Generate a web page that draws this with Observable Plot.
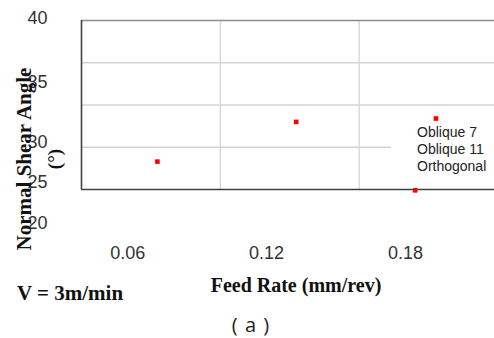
<!DOCTYPE html>
<html>
<head>
<meta charset="utf-8">
<script src="https://cdn.jsdelivr.net/npm/d3@7"></script>
<script src="https://cdn.jsdelivr.net/npm/@observablehq/plot@0.6"></script>
<style>
  html, body { margin: 0; padding: 0; background: #fff; }
  #wrap { position: relative; width: 494px; height: 338px; overflow: hidden; background: #fff; }
  #wrap > svg, #wrap > figure { position: absolute; left: 0; top: 0; margin: 0; }
  .serif { font-family: "Liberation Serif", "Times New Roman", serif; font-weight: bold; color: #111; position: absolute; white-space: nowrap; line-height: 1; }
  #legend { position: absolute; left: 391px; top: 124px; width: 103px; height: 58px; background: #fff;
            font-family: "Liberation Sans", Arial, sans-serif; font-size: 14px; line-height: 17px; color: #222; box-sizing: border-box; padding-left: 26px; }
  #ytitle { left: 24px; top: 159px; font-size: 21px; transform: translate(-50%, -50%) rotate(-90deg); }
  #yunit { left: 54px; top: 159px; font-size: 19px; transform: translate(-50%, -50%) rotate(-90deg); }
  #xtitle { left: 296px; top: 285px; font-size: 20px; transform: translate(-50%, -50%); }
  #speed { left: 17px; top: 293px; font-size: 21px; transform: translate(0, -50%); }
  #sub { position: absolute; left: 251px; top: 325px; transform: translate(-50%, -50%); font-family: "Open Sans", sans-serif; font-size: 20px; line-height: 1.1; color: #222; white-space: nowrap; letter-spacing: 1px; }
</style>
</head>
<body>
<div id="wrap"></div>
<script>
// Data
const feedRate = [0.0728, 0.1328, 0.1932, 0.1842];
const shearAngle = [23.3, 28.0, 28.4, 19.9];
const seriesNames = ["Oblique 7", "Oblique 11", "Orthogonal"];
const xTicks = [0.06, 0.12, 0.18];
const xGrid = [0.10, 0.16];
const yGrid = [25, 30, 35];
const yTicks = [20, 25, 30, 35, 40];
const yTickLabels = ["20", "25", "30", "35", "40"];

const points = feedRate.map((f, i) => ({feed: f, angle: shearAngle[i]}));

const wrap = document.getElementById("wrap");

const main = Plot.plot({
  width: 494,
  height: 338,
  marginLeft: 81,
  marginRight: 0,
  marginTop: 20,
  marginBottom: 149,
  style: {fontFamily: "'Liberation Sans', Arial, sans-serif", fontSize: "18px", color: "#333", background: "white"},
  x: {domain: [0.04, 0.2185], ticks: xTicks, tickSize: 0, tickPadding: 57, tickFormat: d3.format(".2f"), label: null},
  y: {domain: [20, 40], axis: null},
  marks: [
    Plot.ruleY(yGrid, {stroke: "#d4d4d4", strokeWidth: 1.3}),
    Plot.ruleX(xGrid, {stroke: "#d4d4d4", strokeWidth: 1.3}),
    Plot.ruleY([40], {stroke: "#8c8c8c", strokeWidth: 1.7}),
    Plot.ruleY([20], {stroke: "#404040", strokeWidth: 1.6}),
    Plot.ruleX([0.04], {stroke: "#404040", strokeWidth: 1.6}),
    Plot.dot(points, {x: "feed", y: "angle", symbol: "square", fill: "#ff0000", stroke: "none", r: 2.6})
  ]
});
wrap.appendChild(main);

const yAxisPlot = Plot.plot({
  width: 494,
  height: 338,
  marginLeft: 48,
  marginTop: 0,
  marginBottom: 0,
  marginRight: 0,
  style: {fontFamily: "'Liberation Sans', Arial, sans-serif", fontSize: "18px", color: "#333", background: "transparent"},
  y: {type: "linear", domain: yTicks, range: [223, 182, 142, 82, 18], label: null, axis: null},
  marks: [
    Plot.axisY(yTicks, {tickSize: 0, tickPadding: 1, tickFormat: (d) => yTickLabels[yTicks.indexOf(d)], label: null})
  ]
});
wrap.appendChild(yAxisPlot);

const legend = document.createElement("div");
legend.id = "legend";
seriesNames.forEach(n => { const d = document.createElement("div"); d.textContent = n; legend.appendChild(d); });
wrap.appendChild(legend);

function addText(id, cls, txt) {
  const d = document.createElement("div");
  d.id = id; if (cls) d.className = cls; d.textContent = txt; wrap.appendChild(d);
}
addText("ytitle", "serif", "Normal Shear Angle");
addText("yunit", "serif", "(°)");
addText("xtitle", "serif", "Feed Rate (mm/rev)");
addText("speed", "serif", "V = 3m/min");
addText("sub", "", "( a )");
</script>
</body>
</html>
